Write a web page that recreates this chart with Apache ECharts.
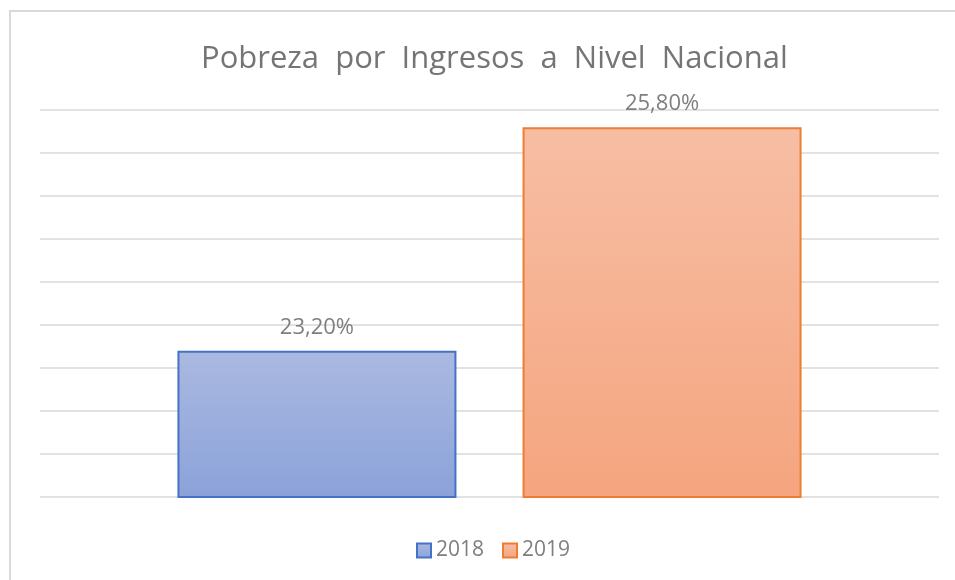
<!DOCTYPE html>
<html>
<head>
<meta charset="utf-8">
<script src="https://cdn.jsdelivr.net/npm/echarts@6/dist/echarts.min.js"></script>
<style>
  html, body { margin: 0; padding: 0; background: #fff; }
  #chart { width: 955px; height: 580px; }
</style>
</head>
<body>
<div id="chart"></div>
<script>
// datos
const YEARS = ['2018', '2019'];
const VALUES = [23.2, 25.8];
const CATEGORY = ['Nacional'];

const FONT = '"Open Sans", "Liberation Sans", sans-serif';
const TEXT_GREY = '#7f7f7f';
const GRID_LINE = '#d9d9d9';

const STYLES = {
  '2018': { top: '#abb9e1', bottom: '#8ba2d9', border: '#4472c4' },
  '2019': { top: '#f7bea4', bottom: '#f5a57f', border: '#ed7d31' },
};

function pct(v) { return v.toFixed(2).replace('.', ',') + '%'; }

const chart = echarts.init(document.getElementById('chart'), null, { renderer: 'canvas' });

chart.setOption({
  animation: false,
  textStyle: { fontFamily: FONT },
  title: {
    text: 'Pobreza  por  Ingresos  a  Nivel  Nacional',
    left: 196, top: 39,
    textStyle: { color: '#757575', fontSize: 31, fontWeight: 'normal', fontFamily: FONT },
  },
  graphic: [{
    type: 'rect', shape: { x: 10, y: 11, width: 1000, height: 1000 },
    style: { fill: 'none', stroke: GRID_LINE, lineWidth: 2 }, silent: true,
  }],
  legend: {
    data: YEARS, bottom: 14, left: 411, itemGap: 18,
    icon: 'rect', itemWidth: 14, itemHeight: 14,
    textStyle: { color: TEXT_GREY, fontSize: 21, fontFamily: FONT, padding: [0, 0, 0, 0] },
  },
  grid: { left: 40, right: 16, top: 110, bottom: 83 },
  xAxis: {
    type: 'category', data: CATEGORY,
    axisLine: { show: false }, axisTick: { show: false }, axisLabel: { show: false },
  },
  yAxis: {
    type: 'value', min: 21.5, max: 26, interval: 0.5,
    axisLine: { show: false }, axisTick: { show: false }, axisLabel: { show: false },
    splitLine: { lineStyle: { color: GRID_LINE, width: 1.5 } },
  },
  series: YEARS.map((y, i) => ({
    name: y, type: 'bar', data: [VALUES[i]],
    barWidth: 279, barGap: '23.7%',
    itemStyle: {
      color: new echarts.graphic.LinearGradient(0, 0, 0, 1, [
        { offset: 0, color: STYLES[y].top }, { offset: 1, color: STYLES[y].bottom }]),
      borderColor: STYLES[y].border, borderWidth: 2,
    },
    label: {
      show: true, position: 'top', distance: 12,
      color: TEXT_GREY, fontSize: 22, fontFamily: FONT,
      formatter: (p) => pct(p.value),
    },
  })),
});
</script>
</body>
</html>
